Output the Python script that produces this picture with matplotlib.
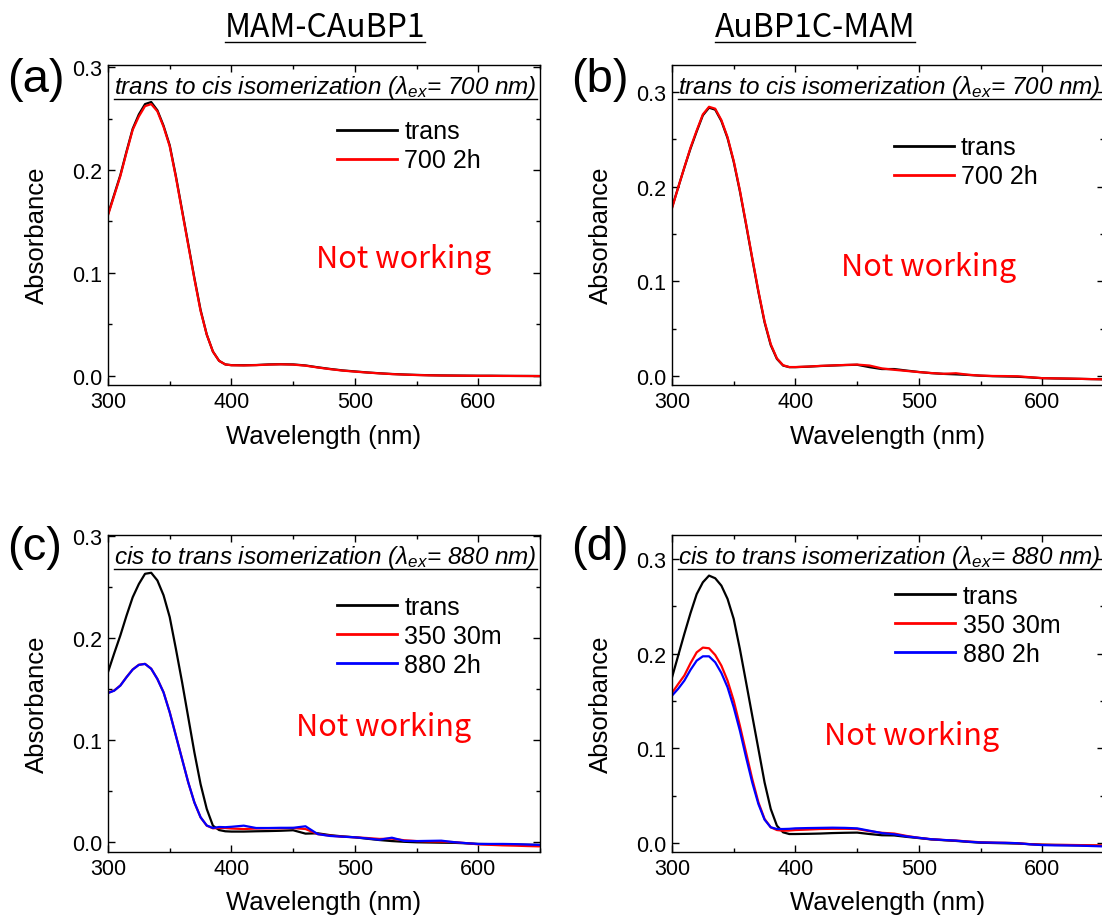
import matplotlib
matplotlib.use("Agg")
import matplotlib.pyplot as plt
from matplotlib.ticker import MultipleLocator, FormatStrFormatter
from matplotlib.lines import Line2D

plt.rcParams['font.family'] = ['Liberation Sans', 'DejaVu Sans']
plt.rcParams['mathtext.fontset'] = 'custom'
plt.rcParams['mathtext.it'] = 'Liberation Sans:italic'
plt.rcParams['mathtext.rm'] = 'Liberation Sans:italic'

# ---------------- data ----------------
wavelength = [300, 305, 310, 315, 320, 325, 330, 335, 340, 345, 350, 355, 360, 365, 370,
              375, 380, 385, 390, 395, 400,
              410, 420, 430, 440, 450, 460, 470, 480, 490, 500, 510, 520, 530, 540,
              550, 560, 570, 580, 590, 600, 610, 620, 630, 640, 650]

a_trans = [0.157, 0.176, 0.195, 0.218, 0.240, 0.254, 0.264, 0.266, 0.258, 0.243, 0.224, 0.194,
           0.161, 0.128, 0.095, 0.064, 0.040, 0.0235, 0.0145, 0.011, 0.0103,
           0.0102, 0.0104, 0.0110, 0.0112, 0.0110, 0.0100, 0.0082, 0.0066, 0.0052, 0.0042,
           0.0032, 0.0024, 0.0017, 0.0012, 0.0008, 0.0005, 0.0003, 0.0002, 0.0001, 0.0,
           0.0, -0.0001, -0.0002, -0.0002, -0.0003]
a_700 = [0.156, 0.175, 0.194, 0.217, 0.239, 0.252, 0.262, 0.264, 0.257, 0.242, 0.223, 0.193,
         0.160, 0.127, 0.094, 0.063, 0.040, 0.0235, 0.0145, 0.011, 0.0102,
         0.0100, 0.0103, 0.0108, 0.0111, 0.0108, 0.0098, 0.0080, 0.0064, 0.0050, 0.0040,
         0.0031, 0.0023, 0.0016, 0.0011, 0.0007, 0.0004, 0.0002, 0.0001, 0.0, -0.0001,
         -0.0001, -0.0002, -0.0002, -0.0003, -0.0003]

b_trans = [0.178, 0.199, 0.220, 0.240, 0.258, 0.275, 0.283, 0.281, 0.269, 0.251, 0.226, 0.195,
           0.160, 0.124, 0.089, 0.057, 0.033, 0.0185, 0.0115, 0.0098, 0.0098,
           0.0103, 0.0110, 0.0115, 0.0120, 0.0123, 0.0098, 0.0078, 0.0078, 0.0062, 0.0047,
           0.0035, 0.0027, 0.0022, 0.0016, 0.0008, 0.0003, 0.0, -0.0003, -0.0010, -0.0018,
           -0.0021, -0.0023, -0.0025, -0.0028, -0.0030]
b_700 = [0.177, 0.199, 0.220, 0.241, 0.259, 0.276, 0.284, 0.282, 0.270, 0.252, 0.227, 0.196,
         0.161, 0.125, 0.090, 0.058, 0.034, 0.019, 0.0118, 0.0099, 0.0099,
         0.0104, 0.0111, 0.0116, 0.0121, 0.0125, 0.0115, 0.0085, 0.0070, 0.0058, 0.0046,
         0.0036, 0.0028, 0.0034, 0.0018, 0.0009, 0.0005, 0.0004, 0.0002, -0.0008, -0.0018,
         -0.0020, -0.0022, -0.0025, -0.0028, -0.0030]

c_trans = [0.1667, 0.185, 0.2026, 0.222, 0.240, 0.253, 0.263, 0.264, 0.2565, 0.242, 0.2206,
           0.1895, 0.157, 0.1225, 0.088, 0.057, 0.0327, 0.0163, 0.012, 0.0108, 0.0105,
           0.0105, 0.0108, 0.0110, 0.0113, 0.0118, 0.0085, 0.0088, 0.0070, 0.0058, 0.0049,
           0.0035, 0.0022, 0.0012, 0.0005, 0.0, -0.0002, -0.0004, -0.0005, -0.0010, -0.0016,
           -0.0018, -0.0020, -0.0022, -0.0024, -0.0026]
c_350 = [0.1464, 0.1487, 0.1536, 0.1618, 0.1693, 0.1739, 0.1748, 0.170, 0.160, 0.147, 0.1275,
         0.1046, 0.0817, 0.0588, 0.039, 0.0245, 0.0163, 0.0137, 0.0140, 0.0140, 0.0135,
         0.0130, 0.0135, 0.0137, 0.0138, 0.0140, 0.0130, 0.0080, 0.0065, 0.0055, 0.0049,
         0.0042, 0.0033, 0.0036, 0.0020, 0.0012, 0.0008, 0.0007, 0.0002, -0.0008, -0.0020,
         -0.0025, -0.0030, -0.0033, -0.0037, -0.0040]
c_880 = [0.1462, 0.1485, 0.1535, 0.1617, 0.1692, 0.1738, 0.1747, 0.1700, 0.1600, 0.1468,
         0.1272, 0.1043, 0.0815, 0.0587, 0.0390, 0.0245, 0.0165, 0.0140, 0.0150, 0.0148, 0.0152,
         0.0163, 0.0140, 0.0140, 0.0142, 0.0142, 0.0157, 0.0080, 0.0062, 0.0055, 0.0049,
         0.0038, 0.0025, 0.0045, 0.0014, 0.0012, 0.0014, 0.0016, 0.0002, -0.0008, -0.0016,
         -0.0016, -0.0016, -0.0018, -0.0022, -0.0026]

d_trans = [0.175, 0.198, 0.221, 0.243, 0.263, 0.2755, 0.2826, 0.2798, 0.272, 0.258, 0.2368,
           0.205, 0.170, 0.1346, 0.0994, 0.064, 0.036, 0.0183, 0.0113, 0.0095, 0.0095,
           0.0097, 0.0100, 0.0105, 0.0108, 0.0110, 0.0095, 0.0082, 0.0080, 0.0065, 0.0052,
           0.0038, 0.0030, 0.0022, 0.0012, 0.0003, 0.0, -0.0003, -0.0006, -0.0012, -0.0018,
           -0.0020, -0.0022, -0.0024, -0.0027, -0.0030]
d_350 = [0.1586, 0.168, 0.177, 0.190, 0.2015, 0.2065, 0.2058, 0.1987, 0.1875, 0.1716, 0.1505,
         0.124, 0.0958, 0.0677, 0.043, 0.0254, 0.0166, 0.0137, 0.013, 0.0132, 0.0137,
         0.0142, 0.0148, 0.0150, 0.0150, 0.0148, 0.0125, 0.0108, 0.0100, 0.0075, 0.0055,
         0.0040, 0.0032, 0.0026, 0.0016, 0.0008, 0.0004, 0.0002, -0.0002, -0.0012, -0.0018,
         -0.0020, -0.0020, -0.0022, -0.0024, -0.0026]
d_880 = [0.1557, 0.163, 0.1716, 0.183, 0.1927, 0.1973, 0.1973, 0.191, 0.1797, 0.1646, 0.1434,
         0.1187, 0.0906, 0.064, 0.0412, 0.0247, 0.0166, 0.0148, 0.0148, 0.015, 0.0155,
         0.0158, 0.0160, 0.0162, 0.0160, 0.0155, 0.0130, 0.0105, 0.0092, 0.0070, 0.0055,
         0.0040, 0.0032, 0.0025, 0.0014, 0.0006, 0.0004, 0.0002, -0.0002, -0.0014, -0.0022,
         -0.0025, -0.0026, -0.0028, -0.0032, -0.0036]

col_titles = ["MAM-CAuBP1", "AuBP1C-MAM"]
panel_tags = ["(a)", "(b)", "(c)", "(d)"]
box_titles = [r"trans to cis isomerization ($\lambda_{ex}$= 700 nm)",
              r"trans to cis isomerization ($\lambda_{ex}$= 700 nm)",
              r"cis to trans isomerization ($\lambda_{ex}$= 880 nm)",
              r"cis to trans isomerization ($\lambda_{ex}$= 880 nm)"]
labels_top = ["trans", "700 2h"]
labels_bot = ["trans", "350 30m", "880 2h"]
note = "Not working"

# ---------------- figure ----------------
W, H = 1102, 920
fig = plt.figure(figsize=(W / 100, H / 100), dpi=100)

def px_axes(l, r, t, b):
    return fig.add_axes([l / W, 1 - b / H, (r - l) / W, (b - t) / H])

ax_a = px_axes(108, 540, 66, 386)
ax_b = px_axes(672, 1104, 66, 386)
ax_c = px_axes(108, 540, 536, 853)
ax_d = px_axes(672, 1104, 536, 853)

panels = [
    (ax_a, [a_trans, a_700], labels_top, ["black", "red"], (-0.009, 0.302)),
    (ax_b, [b_trans, b_700], labels_top, ["black", "red"], (-0.009, 0.328)),
    (ax_c, [c_trans, c_350, c_880], labels_bot, ["black", "red", "blue"], (-0.0095, 0.301)),
    (ax_d, [d_trans, d_350, d_880], labels_bot, ["black", "red", "blue"], (-0.0095, 0.3255)),
]
leg_pos = [(0.53, 0.83), (0.513, 0.78), (0.53, 0.81), (0.517, 0.845)]
note_pos = [(0.685, 0.394), (0.594, 0.369), (0.639, 0.397), (0.555, 0.369)]
tag_pos = [(7, 80), (571, 80), (7, 548), (571, 548)]

box_texts = []
for i, (ax, series, labs, cols, ylim) in enumerate(panels):
    for s, lab, c in zip(series, labs, cols):
        ax.plot(wavelength, s, color=c, lw=1.6, label=lab)
    ax.set_xlim(300, 650)
    ax.set_ylim(*ylim)
    ax.xaxis.set_major_locator(MultipleLocator(100))
    ax.xaxis.set_minor_locator(MultipleLocator(50))
    ax.yaxis.set_major_locator(MultipleLocator(0.1))
    ax.yaxis.set_minor_locator(MultipleLocator(0.05))
    ax.yaxis.set_major_formatter(FormatStrFormatter('%.1f'))
    ax.tick_params(which='both', direction='in', top=True, right=True, width=1.0,
                   labelsize=15.5, pad=4)
    ax.tick_params(which='major', length=5)
    ax.tick_params(which='minor', length=3)
    for sp in ax.spines.values():
        sp.set_linewidth(1.0)
    ax.set_xlabel("Wavelength (nm)", fontsize=18.5)
    ax.set_ylabel("Absorbance", fontsize=18.5)
    ax.xaxis.label.set_va('center')
    ax.yaxis.label.set_va('center')
    ax.xaxis.set_label_coords(0.5, -0.159)
    ax.yaxis.set_label_coords(-0.165, 0.47)
    leg = ax.legend(loc='upper left', bbox_to_anchor=leg_pos[i], frameon=False,
                    fontsize=18, handlelength=2.4, handletextpad=0.3,
                    labelspacing=0.2, borderpad=0, borderaxespad=0)
    for ln in leg.get_lines():
        ln.set_linewidth(2.0)
    ax.text(note_pos[i][0], note_pos[i][1], note, transform=ax.transAxes,
            color='red', fontsize=22, family=['Noto Sans CJK KR', 'DejaVu Sans'],
            ha='center', va='center')
    t = ax.text(0.014, 0.932, box_titles[i], transform=ax.transAxes, fontsize=17.5,
                style='italic', ha='left', va='center')
    box_texts.append(t)
    fig.text(tag_pos[i][0] / W, 1 - tag_pos[i][1] / H, panel_tags[i], fontsize=34,
             ha='left', va='center')

col_texts = []
for x, ttl in zip([325, 815], col_titles):
    col_texts.append(fig.text(x / W, 1 - 28 / H, ttl, fontsize=23, ha='center', va='center',
                              family=['Noto Sans CJK KR', 'DejaVu Sans']))

# underline the titles
fig.canvas.draw()
for t in box_texts + col_texts:
    bb = t.get_window_extent()
    y = bb.y0 + 1
    fig.add_artist(Line2D([bb.x0 / W, bb.x1 / W], [y / H, y / H], color='black', lw=1.0,
                          transform=fig.transFigure))

fig.savefig("out.png", dpi=100)
